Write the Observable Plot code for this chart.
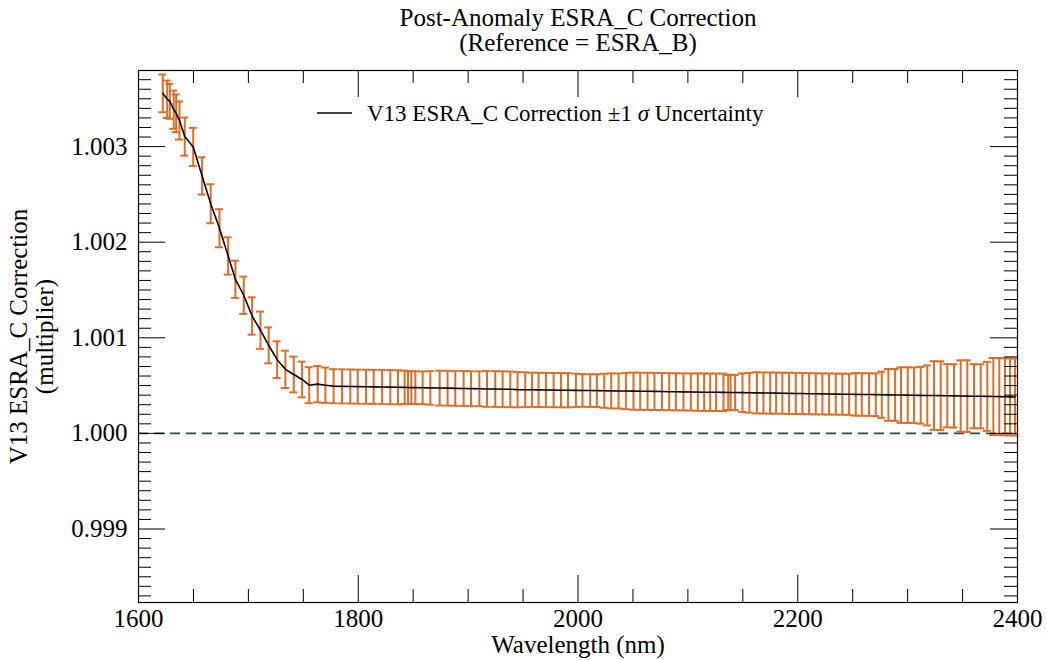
<!DOCTYPE html>
<html><head><meta charset="utf-8">
<script src="https://cdn.jsdelivr.net/npm/d3@7"></script>
<script src="https://cdn.jsdelivr.net/npm/@observablehq/plot@0.6"></script>
<style>
body{margin:0;background:#fff}
#chart svg, #chart svg text { font-family: "Liberation Serif", "Times New Roman", serif !important; }
</style>
</head><body><div id="chart"></div>
<script>
const wavelength = [1622.1,1626.1,1628.5,1632.1,1634.3,1637.3,1642.1,1649.8,1657.9,1665.7,1673.7,1681.6,1688.2,1695.8,1703.4,1711.0,1718.5,1726.2,1733.7,1741.3,1748.9,1755.4,
1763.1,1770.1,1777.6,1785.3,1792.8,1799.5,1807.1,1814.0,1821.7,1829.2,1836.2,1842.2,1845.3,1848.3,1852.0,1858.6,1865.6,1874.1,1881.3,1888.3,1895.9,1902.6,1910.2,1917.2,1924.7,1931.4,1938.4,1945.0,
1952.0,1958.1,1964.1,1970.8,1977.8,1984.5,1990.9,1998.1,2004.1,2011.1,2017.2,2023.9,2030.2,2036.9,2043.6,2050.5,2056.6,2063.3,2069.6,2076.4,2083.0,2089.1,2096.0,2102.7,2109.1,2114.8,2120.3,2125.7,2132.4,2136.7,2138.9,2143.0,2149.7,2156.0,2162.8,2168.8,
2174.9,2180.3,2186.0,2192.1,2198.2,2204.2,2210.3,2216.4,2222.4,2228.5,2234.6,2240.6,2246.7,2252.8,2258.3,2264.9,2271.0,2276.5,2282.5,2288.6,2294.0,2300.1,2305.8,2311.9,2317.9,2324.0,2330.1,2336.1,2342.2,2348.3,2354.3,2360.4,2366.5,2372.5,2378.0,2383.4,2388.6,2393.2,2397.7];
const correction = [1.003557,1.003496,1.003474,1.003386,1.003348,1.003273,1.003105,1.002996,1.002693,1.002402,1.002146,1.001856,1.001612,1.001445,1.001228,1.001079,1.000921,1.000771,1.000670,1.000616,1.000564,1.000504,
1.000515,1.000504,1.000494,1.000492,1.000491,1.000489,1.000488,1.000487,1.000486,1.000484,1.000482,1.000481,1.000480,1.000479,1.000479,1.000477,1.000476,1.000474,1.000473,1.000471,1.000470,1.000468,1.000467,1.000465,1.000464,1.000462,1.000461,1.000458,
1.000457,1.000456,1.000455,1.000454,1.000453,1.000452,1.000451,1.000450,1.000449,1.000448,1.000447,1.000446,1.000445,1.000444,1.000443,1.000442,1.000441,1.000440,1.000439,1.000438,1.000436,1.000435,1.000434,1.000433,1.000432,1.000431,1.000430,1.000430,1.000429,1.000428,1.000428,1.000427,1.000426,1.000425,1.000424,1.000423,
1.000422,1.000421,1.000420,1.000419,1.000418,1.000417,1.000415,1.000414,1.000413,1.000412,1.000411,1.000410,1.000409,1.000408,1.000407,1.000406,1.000405,1.000404,1.000403,1.000402,1.000401,1.000400,1.000399,1.000398,1.000397,1.000396,1.000395,1.000394,1.000392,1.000391,1.000390,1.000389,1.000388,1.000387,1.000386,1.000385,1.000384,1.000382,1.000381];
const uncertainty = [0.000197,0.000195,0.000183,0.000200,0.000197,0.000199,0.000199,0.000200,0.000195,0.000204,0.000199,0.000195,0.000195,0.000195,0.000195,0.000195,0.000188,0.000192,0.000195,0.000187,0.000187,0.000188,
0.000190,0.000185,0.000178,0.000178,0.000178,0.000178,0.000178,0.000178,0.000178,0.000178,0.000178,0.000175,0.000171,0.000171,0.000171,0.000171,0.000175,0.000182,0.000182,0.000182,0.000182,0.000182,0.000182,0.000187,0.000187,0.000187,0.000187,0.000185,
0.000182,0.000179,0.000179,0.000179,0.000179,0.000179,0.000179,0.000175,0.000171,0.000171,0.000171,0.000178,0.000183,0.000183,0.000189,0.000194,0.000194,0.000194,0.000194,0.000194,0.000194,0.000194,0.000194,0.000194,0.000196,0.000196,0.000196,0.000196,0.000196,0.000185,0.000185,0.000183,0.000201,0.000208,0.000215,0.000215,
0.000215,0.000215,0.000215,0.000215,0.000215,0.000215,0.000215,0.000215,0.000215,0.000215,0.000215,0.000215,0.000215,0.000223,0.000223,0.000223,0.000223,0.000242,0.000271,0.000271,0.000291,0.000291,0.000291,0.000296,0.000314,0.000359,0.000359,0.000331,0.000331,0.000373,0.000375,0.000335,0.000335,0.000361,0.000403,0.000403,0.000403,0.000403,0.000403];

const xMajorTicks = [1600, 1800, 2000, 2200, 2400];
const xMinorTicks = [1650, 1700, 1750, 1850, 1900, 1950, 2050, 2100, 2150, 2250, 2300, 2350];
const yMajorTicks = [0.999, 1.000, 1.001, 1.002, 1.003];
const yTickLabels = ["0.999", "1.000", "1.001", "1.002", "1.003"];
const yMinorTicks = [0.9983,0.9984,0.9985,0.9986,0.9987,0.9988,0.9989,0.9991,0.9992,0.9993,0.9994,0.9995,0.9996,0.9997,0.9998,0.9999,
1.0001,1.0002,1.0003,1.0004,1.0005,1.0006,1.0007,1.0008,1.0009,1.0011,1.0012,1.0013,1.0014,1.0015,1.0016,1.0017,1.0018,1.0019,
1.0021,1.0022,1.0023,1.0024,1.0025,1.0026,1.0027,1.0028,1.0029,1.0031,1.0032,1.0033,1.0034,1.0035,1.0036,1.0037];
const referenceLevel = [1.0];

const titleText = "Post-Anomaly ESRA_C Correction";
const subtitleText = "(Reference = ESRA_B)";
const xLabel = "Wavelength (nm)";
const yLabel1 = "V13 ESRA_C Correction";
const yLabel2 = "(multiplier)";
const legendLabelA = "V13 ESRA_C Correction \u00B11 ";
const legendSigma = "\u03C3";
const legendLabelB = " Uncertainty";

const W = 1047, H = 660, mL = 138, mR = 30, mT = 70, mB = 58;
const ph = H - mT - mB, pw = W - mL - mR;
const majorLen = 27, minorLen = 13;
const orange = "#DC6E2A";
const font = "Liberation Serif, Times New Roman, serif";
const fs = 25;

const data = wavelength.map((w, i) => ({w, v: correction[i], s: uncertainty[i]}));

const tickStyle = {stroke: "black", strokeWidth: 1};
const plot = Plot.plot({
  width: W, height: H,
  marginLeft: mL, marginRight: mR, marginTop: mT, marginBottom: mB,
  style: {fontFamily: font, fontSize: fs + "px", background: "white", color: "black"},
  x: {domain: [1600, 2400]},
  y: {domain: [0.998231, 1.003796]},
  marks: [
    Plot.ruleY(referenceLevel, {y: d => d, stroke: "#2F4F4F", strokeWidth: 1.6, strokeDasharray: "10,6"}),
    Plot.ruleX(data, {x: "w", y1: d => d.v - d.s, y2: d => d.v + d.s, stroke: orange, strokeWidth: 2}),
    Plot.ruleY(data, {y: d => d.v + d.s, x1: "w", x2: "w", insetLeft: -4, insetRight: -4, stroke: orange, strokeWidth: 2}),
    Plot.ruleY(data, {y: d => d.v - d.s, x1: "w", x2: "w", insetLeft: -4, insetRight: -4, stroke: orange, strokeWidth: 2}),
    Plot.line(data, {x: "w", y: "v", stroke: "black", strokeWidth: 1.6}),
    Plot.tickX(xMajorTicks, {x: d => d, insetTop: ph - majorLen, ...tickStyle}),
    Plot.tickX(xMajorTicks, {x: d => d, insetBottom: ph - majorLen, ...tickStyle}),
    Plot.tickX(xMinorTicks, {x: d => d, insetTop: ph - minorLen, ...tickStyle}),
    Plot.tickX(xMinorTicks, {x: d => d, insetBottom: ph - minorLen, ...tickStyle}),
    Plot.tickY(yMajorTicks, {y: d => d, insetRight: pw - majorLen, ...tickStyle}),
    Plot.tickY(yMajorTicks, {y: d => d, insetLeft: pw - majorLen, ...tickStyle}),
    Plot.tickY(yMinorTicks, {y: d => d, insetRight: pw - minorLen, ...tickStyle}),
    Plot.tickY(yMinorTicks, {y: d => d, insetLeft: pw - minorLen, ...tickStyle}),
    Plot.frame({stroke: "black", strokeWidth: 1.2}),
    Plot.axisX(xMajorTicks, {tickSize: 0, tickPadding: 7, label: null, fontSize: fs, tickFormat: d => String(d)}),
    Plot.axisY(yMajorTicks, {tickSize: 0, tickPadding: 11, label: null, fontSize: fs, tickFormat: d => yTickLabels[yMajorTicks.indexOf(d)]}),
    Plot.text([xLabel], {text: d => d, frameAnchor: "bottom", dy: 42, lineAnchor: "middle", textAnchor: "middle", fontSize: fs}),
    Plot.text([yLabel1], {text: d => d, frameAnchor: "left", dx: -120, rotate: -90, lineAnchor: "middle", textAnchor: "middle", fontSize: fs}),
    Plot.text([yLabel2], {text: d => d, frameAnchor: "left", dx: -94, rotate: -90, lineAnchor: "middle", textAnchor: "middle", fontSize: fs}),
    Plot.text([titleText], {text: d => d, frameAnchor: "top", dy: -53, lineAnchor: "middle", textAnchor: "middle", fontSize: fs}),
    Plot.text([subtitleText], {text: d => d, frameAnchor: "top", dy: -28, lineAnchor: "middle", textAnchor: "middle", fontSize: fs})
  ]
});

// legend
const svg = d3.select(plot);
svg.append("line").attr("x1", 317).attr("x2", 352).attr("y1", 113).attr("y2", 113)
  .attr("stroke", "black").attr("stroke-width", 1.6);
const lt = svg.append("text").attr("x", 367).attr("y", 120.5)
  .attr("text-anchor", "start").style("text-anchor", "start")
  .attr("font-size", 23).attr("fill", "black");
lt.append("tspan").text(legendLabelA);
lt.append("tspan").attr("font-style", "italic").text(legendSigma);
lt.append("tspan").text(legendLabelB);

document.getElementById("chart").appendChild(plot);
</script>
</body></html>
